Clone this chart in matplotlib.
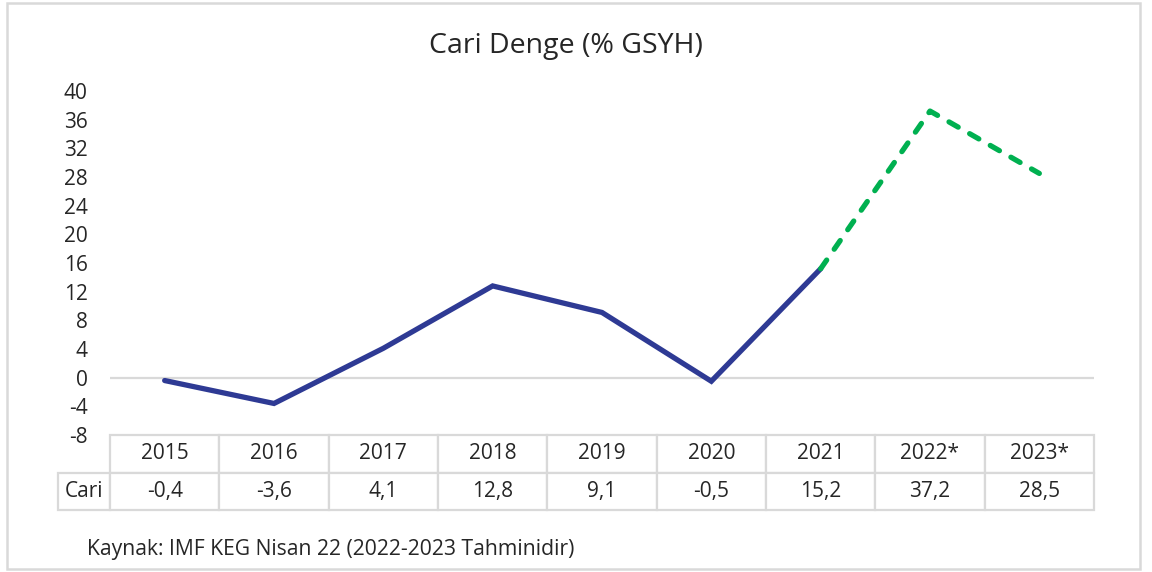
import matplotlib
matplotlib.use("Agg")
import matplotlib.pyplot as plt
from matplotlib.patches import Rectangle

years = ["2015", "2016", "2017", "2018", "2019", "2020", "2021", "2022*", "2023*"]
cari = [-0.4, -3.6, 4.1, 12.8, 9.1, -0.5, 15.2, 37.2, 28.5]
cari_labels = ["-0,4", "-3,6", "4,1", "12,8", "9,1", "-0,5", "15,2", "37,2", "28,5"]
yticks = list(range(-8, 41, 4))
title = "Cari Denge (% GSYH)"
row_label = "Cari"
source = "Kaynak: IMF KEG Nisan 22 (2022-2023 Tahminidir)"
n_actual = 7  # 2015-2021 actual, rest forecast

plt.rcParams["font.family"] = ["Open Sans", "DejaVu Sans"]
plt.rcParams["axes.unicode_minus"] = False
txt_color = "#262626"
grid_color = "#D9D9D9"

fig = plt.figure(figsize=(11.52, 5.72), dpi=100)
W, H = 1152, 572
ax = fig.add_axes([110 / W, 1 - 435 / H, (1094 - 110) / W, (435 - 91) / H])

x = list(range(len(years)))
ax.plot(x[:n_actual], cari[:n_actual], color="#2E3A94", lw=3.8,
        solid_capstyle="round", solid_joinstyle="miter", zorder=3)
ax.plot(x[n_actual - 1:], cari[n_actual - 1:], color="#00B050", lw=3.8,
        linestyle=(0, (2.0, 2.5)), dash_capstyle="round", zorder=3)

ax.axhline(0, color=grid_color, lw=1.6, zorder=1)
ax.set_xlim(-0.5, len(years) - 0.5)
ax.set_ylim(-8, 40)
ax.set_yticks(yticks)
ax.set_yticklabels([str(v) for v in yticks])
ax.set_xticks([])
ax.tick_params(axis="y", length=0, pad=16, labelsize=15, labelcolor=txt_color)
for s in ax.spines.values():
    s.set_visible(False)

axw = 1094 - 110
axh = 435 - 91
rlw = 52 / axw
cell_text = [[""] + years, [row_label] + cari_labels]
tbl = ax.table(cellText=cell_text,
               colWidths=[rlw] + [1 / len(years)] * len(years),
               cellLoc="center",
               bbox=[-rlw, -75 / axh, 1 + rlw, 75 / axh])
tbl.auto_set_font_size(False)
for (r, c), cell in tbl.get_celld().items():
    cell.set_edgecolor(grid_color)
    cell.set_linewidth(1.6)
    cell.get_text().set_fontsize(15)
    cell.get_text().set_color(txt_color)
    if r == 0 and c == 0:
        cell.visible_edges = ""

fig.text(566 / W, 1 - 46 / H, title, ha="center", va="center",
         fontsize=20.5, color=txt_color)
fig.text(87 / W, 1 - 549 / H, source, ha="left", va="center",
         fontsize=15.2, color=txt_color)

fig.patches.append(Rectangle((7 / W, 3 / H), (1140 - 7) / W, (569 - 3) / H,
                             transform=fig.transFigure, fill=False,
                             edgecolor=grid_color, lw=1.8))

fig.savefig("out.png", dpi=100, facecolor="white")
